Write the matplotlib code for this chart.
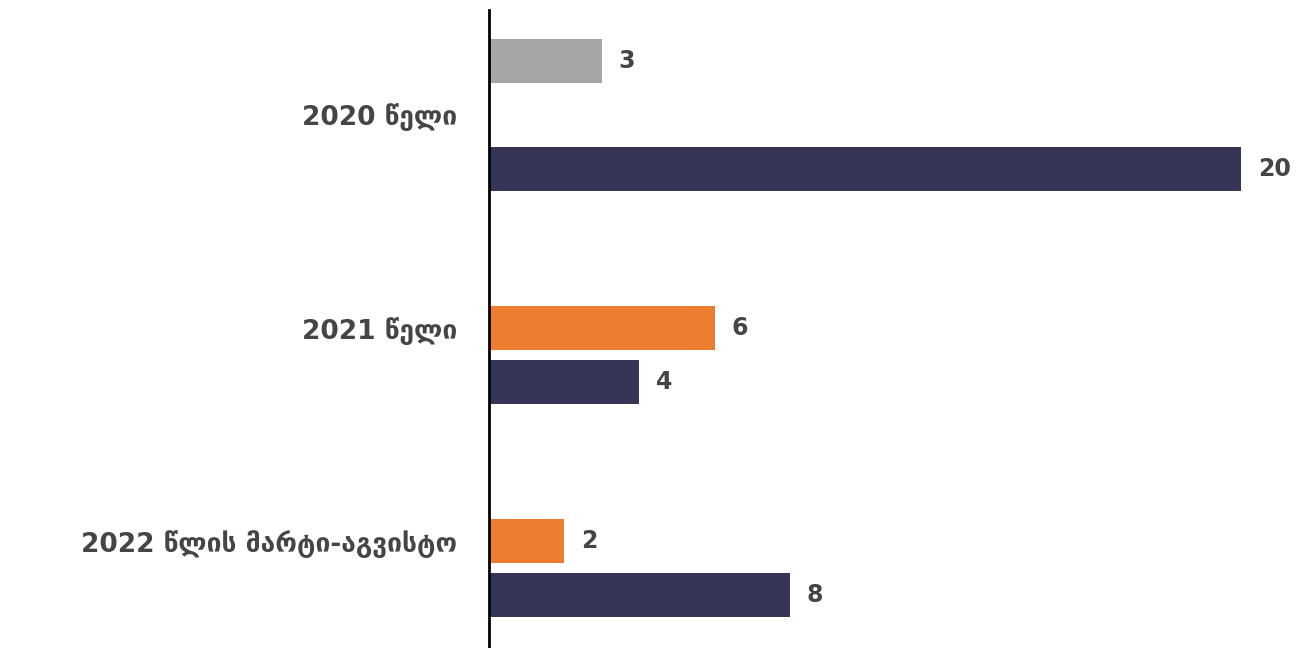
import numpy as np
import matplotlib.pyplot as plt

plt.rcParams['font.family'] = ['DejaVu Sans']

categories = ['2020 წელი', '2021 წელი', '2022 წლის მარტი-აგვისტო']
gray_vals = [3, np.nan, np.nan]
orange_vals = [np.nan, 6, 2]
navy_vals = [20, 4, 8]

series = [
    (gray_vals, '#A5A5A5', -1),
    (orange_vals, '#ED7D31', 0),
    (navy_vals, '#363558', 1),
]

fig = plt.figure(figsize=(13.05, 6.48), dpi=100)
ax = fig.add_axes([489 / 1305, 0, 816 / 1305, 638 / 648])

y = np.arange(len(categories))
slot = 0.253
bh = 0.206
text_color = '#454545'

for vals, color, off in series:
    vals = np.array(vals, dtype=float)
    pos = y + off * slot
    mask = ~np.isnan(vals)
    ax.barh(pos[mask], vals[mask], height=bh, color=color)
    for p, v in zip(pos[mask], vals[mask]):
        ax.text(v + 0.45, p, f'{int(v)}', va='center', ha='left',
                fontsize=17, fontweight='bold', color=text_color)

ax.set_xlim(0, 21.7)
ax.set_ylim(2.5, -0.49)
ax.set_yticks(y)
ax.set_yticklabels(categories, fontsize=19, fontweight='bold', color=text_color)
ax.tick_params(axis='y', length=0, pad=23)
ax.set_xticks([])
for s in ['top', 'right', 'bottom']:
    ax.spines[s].set_visible(False)
ax.spines['left'].set_linewidth(2)
ax.spines['left'].set_color('black')

fig.savefig('out.png', dpi=100)
